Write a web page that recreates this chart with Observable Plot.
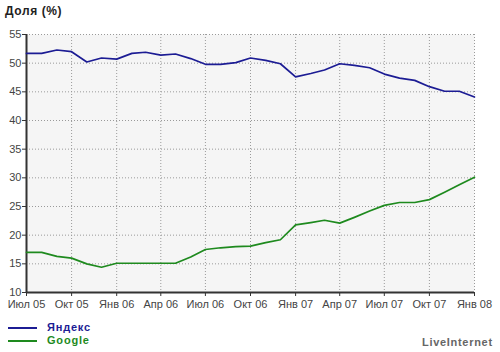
<!DOCTYPE html>
<html><head><meta charset="utf-8">
<script src="https://cdn.jsdelivr.net/npm/d3@7"></script>
<script src="https://cdn.jsdelivr.net/npm/@observablehq/plot@0.6"></script>
<style>
body{margin:0;background:#fff;font-family:"Liberation Sans",Arial,sans-serif;}
#wrap{position:relative;width:500px;height:352px;overflow:hidden;}
#wrap svg{position:absolute;left:0;top:0;}
.t{position:absolute;white-space:nowrap;}
</style></head>
<body><div id="wrap"></div>
<script>
const months = ["2005-07","2005-08","2005-09","2005-10","2005-11","2005-12",
"2006-01","2006-02","2006-03","2006-04","2006-05","2006-06","2006-07","2006-08","2006-09","2006-10","2006-11","2006-12",
"2007-01","2007-02","2007-03","2007-04","2007-05","2007-06","2007-07","2007-08","2007-09","2007-10","2007-11","2007-12",
"2008-01"];
const yandex = [51.7,51.7,52.3,52.0,50.2,50.9,50.7,51.7,51.9,51.4,51.6,50.8,49.8,49.8,50.1,50.9,50.5,49.9,47.6,48.2,48.8,49.9,49.6,49.2,48.1,47.4,47.0,45.9,45.1,45.1,44.1];
const google = [17.0,17.0,16.3,16.0,15.0,14.4,15.1,15.1,15.1,15.1,15.1,16.2,17.5,17.8,18.0,18.1,18.7,19.2,21.8,22.2,22.6,22.1,23.1,24.2,25.2,25.7,25.7,26.2,27.5,28.8,30.1];
const seriesNames = ["Яндекс","Google"];
const seriesColors = ["#1c1c94","#1e8a1e"];
const tickMonths = ["2005-07","2005-10","2006-01","2006-04","2006-07","2006-10","2007-01","2007-04","2007-07","2007-10","2008-01"];
const monthNames = ["Янв","Фев","Мар","Апр","Май","Июн","Июл","Авг","Сен","Окт","Ноя","Дек"];
const yTicks = [10,15,20,25,30,35,40,45,50,55];
const title = "Доля (%)";
const credit = "LiveInternet";

const toDate = s => { const [y,m] = s.split("-").map(Number); return new Date(Date.UTC(y, m-1, 1)); };
const rows = [];
months.forEach((m,i)=>{
  rows.push({date: toDate(m), value: yandex[i], series: seriesNames[0]});
  rows.push({date: toDate(m), value: google[i], series: seriesNames[1]});
});
const xTicks = tickMonths.map(toDate);
const fmt = d => monthNames[d.getUTCMonth()] + " " + String(d.getUTCFullYear()).slice(2);
const x0 = toDate(months[0]), x1 = toDate(months[months.length-1]);

const chart = Plot.plot({
  width: 500, height: 352,
  marginLeft: 26, marginRight: 26, marginTop: 34, marginBottom: 60,
  style: {fontFamily: '"Liberation Sans", Arial, sans-serif', fontSize: "11px", color: "#333", background: "transparent"},
  x: {type: "utc", domain: [x0, x1]},
  y: {domain: [10, 55]},
  color: {domain: seriesNames, range: seriesColors},
  marks: [
    Plot.frame({fill: "#f5f5f5", stroke: null}),
    Plot.gridY(yTicks, {stroke: "#9a9a9a", strokeOpacity: 1, strokeDasharray: "1,2"}),
    Plot.gridX(xTicks, {stroke: "#9a9a9a", strokeOpacity: 1, strokeDasharray: "1,2"}),
    Plot.axisY(yTicks, {tickSize: 4, tickPadding: 1, stroke: "#333", fill: "#444", label: null}),
    Plot.axisX(xTicks, {tickSize: 4, tickPadding: 4, tickFormat: fmt, stroke: "#333", fill: "#444", label: null}),
    Plot.ruleX([x0], {stroke: "#333", strokeWidth: 2}),
    Plot.ruleY([10], {stroke: "#333", strokeWidth: 2}),
    Plot.line(rows, {x: "date", y: "value", z: "series", stroke: "series", strokeWidth: 1.7, curve: "linear"})
  ]
});
const wrap = document.getElementById("wrap");
wrap.appendChild(chart);

function addText(txt, css){ const d=document.createElement("div"); d.className="t"; d.textContent=txt; Object.assign(d.style, css); wrap.appendChild(d); return d; }
addText(title, {left:"5px", top:"4px", fontSize:"12px", fontWeight:"bold", color:"#222", letterSpacing:"0.6px"});
seriesNames.forEach((n,i)=>{
  const top = 321 + i*13;
  const ln = document.createElement("div");
  ln.className="t";
  Object.assign(ln.style,{left:"8px", top:(top+6)+"px", width:"29px", height:"0", borderTop:"2px solid "+seriesColors[i]});
  wrap.appendChild(ln);
  addText(n, {left:"47px", top:top+"px", fontSize:"11px", fontWeight:"bold", color:seriesColors[i], letterSpacing:"0.8px"});
});
addText(credit, {left:"422px", top:"336px", fontSize:"11px", fontWeight:"bold", color:"#666", letterSpacing:"0.7px"});
</script></body></html>
